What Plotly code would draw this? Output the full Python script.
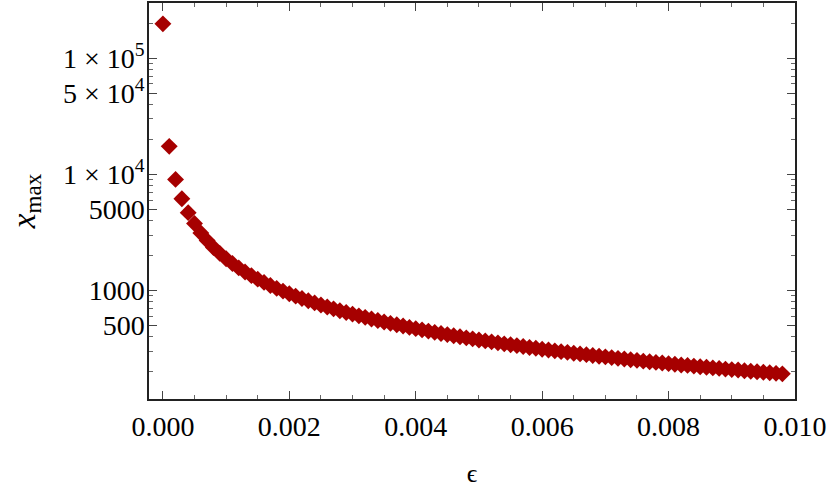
import plotly.graph_objects as go

eps = [round(k * 0.0001, 4) for k in range(99)]
xmax = [197000, 17400, 9040, 6170, 4680, 3770, 3130, 2690, 2350, 2090,
        1880, 1709, 1567, 1446, 1343, 1253, 1175, 1106, 1044, 989,
        940, 895, 855, 817, 783, 752, 723, 696, 671, 648,
        627, 606, 588, 570, 553, 537, 522, 508, 495, 482,
        470, 459, 448, 437, 427, 418, 409, 400, 392, 384,
        376, 369, 362, 355, 348, 342, 336, 330, 324, 319,
        313, 308, 303, 298, 294, 289, 285, 281, 276, 272,
        269, 265, 261, 258, 254, 251, 247, 244, 241, 238,
        235, 232, 229, 227, 224, 221, 219, 216, 214, 211,
        209, 207, 204, 202, 200, 198, 196, 194, 192]

x_ticks = [0.0, 0.002, 0.004, 0.006, 0.008, 0.010]
x_ticktext = ["0.000", "0.002", "0.004", "0.006", "0.008", "0.010"]
x_minor = [0.0005, 0.001, 0.0015, 0.0025, 0.003, 0.0035, 0.0045, 0.005, 0.0055,
           0.0065, 0.007, 0.0075, 0.0085, 0.009, 0.0095]
y_ticks = [500, 1000, 5000, 10000, 50000, 100000]
y_ticktext = ["500", "1000", "5000", "1 × 10<sup>4</sup>", "5 × 10<sup>4</sup>", "1 × 10<sup>5</sup>"]
y_minor = [m * d for d in [100, 1000, 10000, 100000] for m in range(2, 10)
           if m * d not in y_ticks]

FONT = "Liberation Serif"

fig = go.Figure()
fig.add_trace(go.Scatter(
    x=eps, y=xmax, mode="markers",
    marker=dict(symbol="diamond", size=13, color="#A60000", line=dict(width=0)),
    showlegend=False,
))

fig.update_layout(
    width=830, height=498,
    margin=dict(l=149, r=35, t=1, b=99),
    paper_bgcolor="white", plot_bgcolor="white",
    font=dict(family=FONT, size=28, color="black"),
)
fig.update_xaxes(
    range=[-0.00022, 0.0100],
    tickvals=x_ticks, ticktext=x_ticktext,
    ticks="inside", ticklen=8, tickwidth=1.2, tickcolor="#444",
    minor=dict(tickvals=x_minor, ticks="inside", ticklen=4, tickwidth=1, tickcolor="#666"),
    showline=True, linecolor="#222", linewidth=1.5, mirror="ticks",
    showgrid=False, zeroline=False,
    ticklabelstandoff=2,
    title=dict(text="ϵ", font=dict(family=FONT, size=26), standoff=22),
    tickfont=dict(family=FONT, size=28),
)
fig.update_yaxes(
    type="log", range=[2.067, 5.474],
    tickvals=y_ticks, ticktext=y_ticktext,
    ticks="inside", ticklen=8, tickwidth=1.2, tickcolor="#444",
    minor=dict(tickvals=y_minor, ticks="inside", ticklen=4, tickwidth=1, tickcolor="#666"),
    showline=True, linecolor="#222", linewidth=1.5, mirror="ticks",
    showgrid=False, zeroline=False,
    ticklabelstandoff=-3,
    title=dict(text="<i>x</i><sub>max</sub>", font=dict(family=FONT, size=33), standoff=18),
    tickfont=dict(family=FONT, size=28),
)

fig.write_html("out.html", config={"displayModeBar": False},
               post_script="document.body.style.margin='0';")
